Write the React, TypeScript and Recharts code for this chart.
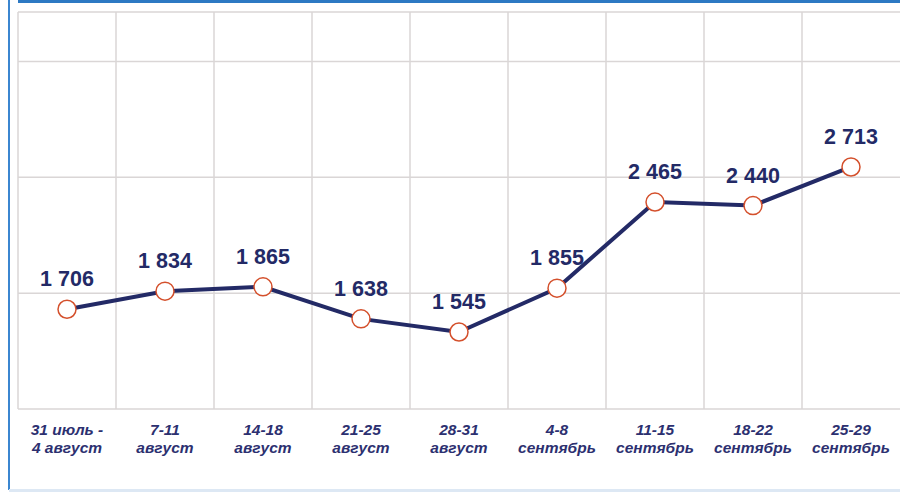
import { CartesianGrid, LabelList, Line, LineChart, XAxis, YAxis } from "recharts";

const weekLabels = ["31 июль -", "7-11", "14-18", "21-25", "28-31", "4-8", "11-15", "18-22", "25-29"];
const monthLabels = ["4 август", "август", "август", "август", "август", "сентябрь", "сентябрь", "сентябрь", "сентябрь"];
const values = [1706, 1834, 1865, 1638, 1545, 1855, 2465, 2440, 2713];
const yTicks = [1000, 1820, 2640, 3460];
const yDomain = [1000, 3810];

const data = values.map((v, i) => ({ week: weekLabels[i], month: monthLabels[i], value: v }));

const NAVY = "#232a66";
const fmt = (v: number) => String(v).replace(/\B(?=(\d{3})+(?!\d))/g, " ");

function WeekTick(props: any) {
  const { x, y, index } = props;
  return (
    <text
      x={x}
      y={y}
      textAnchor="middle"
      fill="#2c3070"
      fontFamily="'Liberation Sans', Arial, sans-serif"
      fontStyle="italic"
      fontWeight="bold"
      fontSize={15.5}
    >
      <tspan x={x} dy={26}>{weekLabels[index]}</tspan>
      <tspan x={x} dy={18}>{monthLabels[index]}</tspan>
    </text>
  );
}

function ValueLabel(props: any) {
  const { x, y, value } = props;
  return (
    <text
      x={x}
      y={y - 23}
      textAnchor="middle"
      fill={NAVY}
      fontFamily="'Liberation Sans', Arial, sans-serif"
      fontWeight="bold"
      fontSize={21.5}
    >
      {fmt(value)}
    </text>
  );
}

export default function App() {
  const n = values.length;
  return (
    <div style={{ position: "fixed", left: 0, top: 0, width: 900, height: 492, background: "#fff" }}>
      {/* frame */}
      <div style={{ position: "absolute", left: 18, top: 0, width: 882, height: 3, background: "#2d79c3" }} />
      <div style={{ position: "absolute", left: 8, top: 0, width: 2, height: 490, background: "#3b86d0" }} />
      <div style={{ position: "absolute", left: 9, top: 489, width: 891, height: 3, background: "#dde8f4" }} />
      <LineChart width={900} height={492} data={data} margin={{ top: 12, right: 0, left: 18, bottom: 0 }}>
        <CartesianGrid
          stroke="#dad6d6"
          strokeWidth={1.5}
          verticalCoordinatesGenerator={({ offset }: any) =>
            Array.from({ length: n }, (_, i) => offset.left + (i * offset.width) / n)
          }
        />
        <XAxis
          dataKey="week"
          scale="band"
          height={83}
          axisLine={false}
          tickLine={false}
          tickSize={0}
          tickMargin={0}
          interval={0}
          tick={<WeekTick />}
        />
        <YAxis hide domain={yDomain} ticks={yTicks} />
        <Line
          dataKey="value"
          stroke={NAVY}
          strokeWidth={4}
          isAnimationActive={false}
          dot={{ r: 9, fill: "#fff", stroke: "#d4502c", strokeWidth: 1.5 }}
        >
          <LabelList dataKey="value" content={<ValueLabel />} />
        </Line>
      </LineChart>
    </div>
  );
}
